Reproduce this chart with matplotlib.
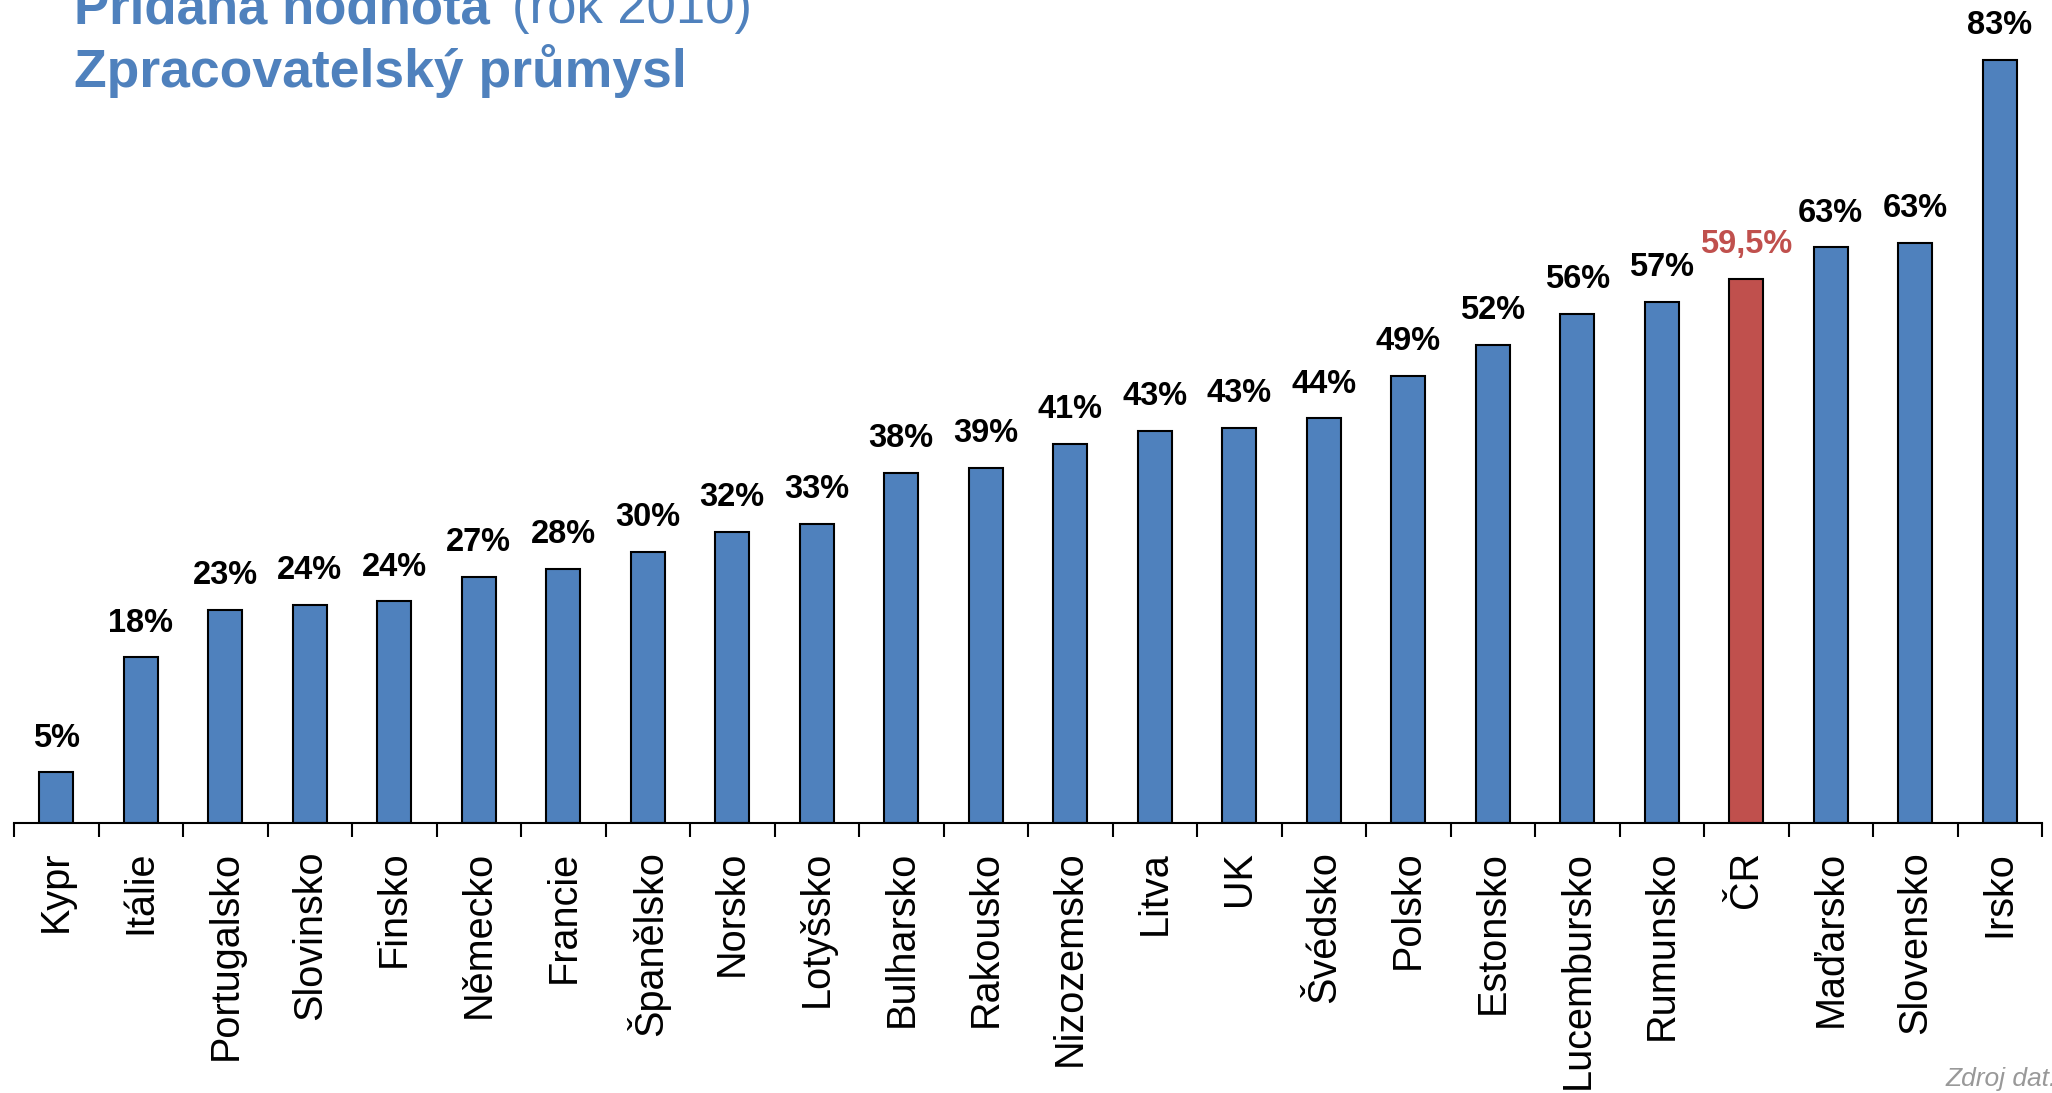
import matplotlib.pyplot as plt

plt.rcParams['font.family'] = ['Liberation Sans', 'DejaVu Sans']

zeme = ['Kypr', 'Itálie', 'Portugalsko', 'Slovinsko', 'Finsko', 'Německo',
        'Francie', 'Španělsko', 'Norsko', 'Lotyšsko', 'Bulharsko', 'Rakousko',
        'Nizozemsko', 'Litva', 'UK', 'Švédsko', 'Polsko', 'Estonsko',
        'Lucembursko', 'Rumunsko', 'ČR', 'Maďarsko', 'Slovensko', 'Irsko']
podil = [5.5, 18.0, 23.2, 23.7, 24.1, 26.8, 27.6, 29.5, 31.7, 32.5, 38.1, 38.6,
         41.2, 42.6, 43.0, 44.0, 48.6, 52.0, 55.4, 56.7, 59.2, 62.6, 63.1, 83.0]
popisky = ['5%', '18%', '23%', '24%', '24%', '27%', '28%', '30%', '32%', '33%',
           '38%', '39%', '41%', '43%', '43%', '44%', '49%', '52%', '56%', '57%',
           '59,5%', '63%', '63%', '83%']

modra = '#4F81BD'
cervena = '#C0504D'

fig = plt.figure(figsize=(20.52, 10.93), dpi=100)
ax = fig.add_axes([14 / 2052, 270 / 1093, 2028 / 2052, 823 / 1093])

x = range(len(zeme))
barvy = [cervena if z == 'ČR' else modra for z in zeme]
ax.bar(x, podil, width=0.4, color=barvy, edgecolor='black', linewidth=1.5)

for i, (v, t) in enumerate(zip(podil, popisky)):
    c = cervena if zeme[i] == 'ČR' else 'black'
    ax.text(i, v + 2.05, t, ha='center', va='bottom', fontsize=23.5,
            fontweight='bold', color=c)

ax.set_xlim(-0.5, len(zeme) - 0.5)
ax.set_ylim(0, 89.5)
ax.set_xticks([i - 0.5 for i in range(len(zeme) + 1)])
ax.set_xticklabels([])
ax.set_xticks(list(x), minor=True)
ax.set_xticklabels(zeme, minor=True, rotation=90, fontsize=28.5)
ax.tick_params(axis='x', which='major', direction='out', length=10, width=1.5)
ax.tick_params(axis='x', which='minor', length=0, pad=20)
ax.set_yticks([])
for s in ['top', 'right', 'left']:
    ax.spines[s].set_visible(False)
ax.spines['bottom'].set_linewidth(1.5)

# titulek
fig.text(74 / 2052, 1 - 23 / 1093, 'Přidaná hodnota', fontsize=38,
         fontweight='bold', color=modra, va='baseline')
fig.text(512 / 2052, 1 - 23 / 1093, '(rok 2010)', fontsize=38,
         color=modra, va='baseline')
fig.text(74 / 2052, 1 - 87 / 1093, 'Zpracovatelský průmysl', fontsize=38.5,
         fontweight='bold', color=modra, va='baseline')
fig.text(1946 / 2052, 1 - 1086 / 1093, 'Zdroj dat:', fontsize=19,
         style='italic', color='#999999', va='baseline')

fig.savefig('out.png', dpi=100)
